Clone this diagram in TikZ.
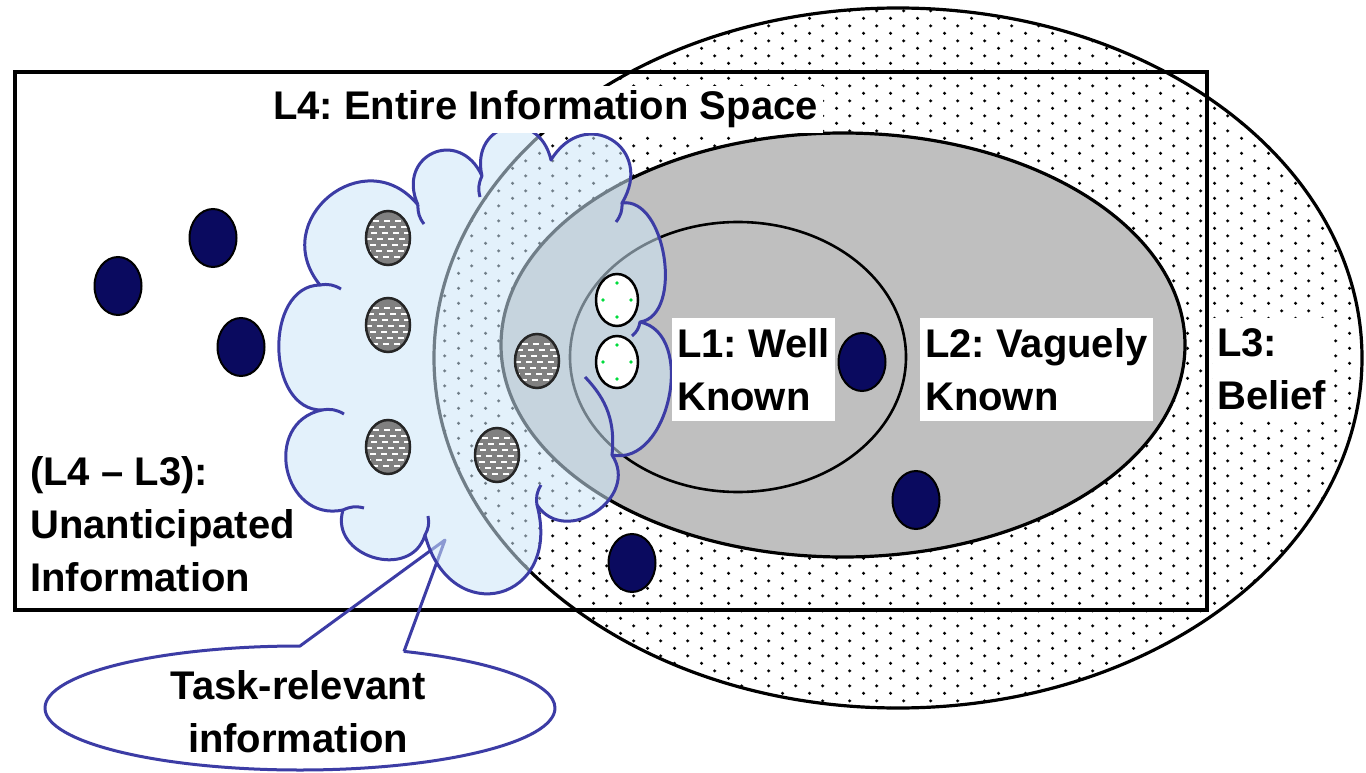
\documentclass[tikz,border=0pt]{standalone}
\usepackage{fontspec}
\newfontfamily\lbl{Liberation Sans}
\usetikzlibrary{shapes.geometric,patterns,calc}
\pgfdeclarepatternformonly{sparsedots}{\pgfqpoint{0pt}{0pt}}{\pgfqpoint{26.6pt}{15.4pt}}{\pgfqpoint{26.6pt}{15.4pt}}{%
  \pgfpathcircle{\pgfqpoint{6.65pt}{3.85pt}}{1.75pt}%
  \pgfpathcircle{\pgfqpoint{19.95pt}{11.55pt}}{1.75pt}%
  \pgfusepath{fill}}
\definecolor{navy}{RGB}{10,10,95}
\definecolor{cloudblue}{RGB}{60,60,165}
\definecolor{cloudfill}{RGB}{205,230,248}
\definecolor{ltwogray}{RGB}{191,191,191}
\definecolor{dotgray}{RGB}{128,128,128}
\definecolor{handle}{RGB}{0,220,60}
\begin{document}
\begin{tikzpicture}[x=1pt,y=-1pt,
  lbltext/.style={font=\lbl\bfseries\frenchspacing\fontsize{40}{53}\selectfont, text=black, align=left, inner sep=0},
  boxtext/.style={lbltext, fill=white, inner xsep=5, inner ysep=10, anchor=north west},
  navydot/.style={ellipse, draw=black, line width=2, fill=navy, minimum width=47, minimum height=58, inner sep=0},
  graydot/.style={ellipse, draw=black!85, line width=2.5, fill=dotgray, minimum width=44, minimum height=54, inner sep=0,
    path picture={
      \foreach \dy/\ph in {-17/0,-11/5,-5/2,1/7,7/3,13/8,19/1}{
        \draw[white, line width=2, dash pattern=on 6 off 5, dash phase=\ph]
          ($(path picture bounding box.center)+(-26,\dy)$) -- ($(path picture bounding box.center)+(26,\dy)$);
      }}},
  whitedot/.style={ellipse, draw=black, line width=2.5, fill=white, minimum width=42, minimum height=52, inner sep=0,
    path picture={
      \foreach \hx/\hy in {0/-17,0/17,-14/0,14/0}{
        \fill[handle] ($(path picture bounding box.center)+(\hx,\hy)$) circle[radius=1.8];
      }}},
  cloudline/.style={draw=cloudblue, line width=3, line join=round},
  callout/.style={draw=cloudblue, line width=3, line join=round},
  outline/.style={draw=black, line width=3.2}
]
\useasboundingbox (0,0) rectangle (1366,773);
\fill[white] (0,0) rectangle (1366,773);

% L3: belief (dotted ellipse)
\fill[white] (898,358) ellipse [x radius=464, y radius=350];
\fill[pattern=sparsedots, pattern color=black] (898,358) ellipse [x radius=464, y radius=350];
\draw[outline] (898,358) ellipse [x radius=464, y radius=350];

% L4: entire information space
\draw[outline] (15,72) rectangle (1207,610);

% L2 and L1
\draw[outline, fill=ltwogray] (843,345) ellipse [x radius=342, y radius=212];
\draw[line width=2.6, draw=black, fill=ltwogray] (738,357) ellipse [x radius=168, y radius=135];

% navy dots
\node[navydot] (n1) at (118,286) {};
\node[navydot] (n2) at (213,238) {};
\node[navydot] (n3) at (241,347) {};
\node[navydot] (n4) at (862,362) {};
\node[navydot] (n5) at (916,500) {};
\node[navydot] (n6) at (632,563) {};

% callout pointer and ellipse
\coordinate (tip) at (445,540);
\coordinate (cbl) at (300,646);
\coordinate (cbr) at (404,651.4);
\draw[callout] (cbr) -- (tip) -- (cbl) arc[start angle=270, end angle=-66, x radius=255, y radius=62];

% cloud
\path[cloudline, fill=cloudfill, fill opacity=0.55]
  (418,205) to[bend left=90, looseness=2.0] (482,176)
  to[bend left=90, looseness=2.0] (551,160)
  to[bend left=90, looseness=2.0] (622,203)
  to[bend left=90, looseness=0.95] (640,322)
  to[bend left=90, looseness=1.1] (612,455)
  to[bend left=90, looseness=1.45] (537,505)
  to[bend left=90, looseness=2.2] (425,535)
  to[bend left=90, looseness=1.45] (343,510)
  to[bend left=90, looseness=1.55] (322,410)
  to[bend left=90, looseness=1.15] (320,285)
  to[bend left=90, looseness=1.7] (418,205);
% cloud inner stubs
\draw[cloudline] (418,205) to[bend right=20] (424,224);
\draw[cloudline] (482,176) to[bend right=20] (480,197);
\draw[cloudline] (622,203) to[bend left=20] (616,222);
\draw[cloudline] (640,322) to[bend left=20] (632,336);
\draw[cloudline] (612,455) to[bend right=25] (585,377);
\draw[cloudline] (537,505) to[bend left=20] (541,485);
\draw[cloudline] (425,535) to[bend right=20] (428,516);
\draw[cloudline] (343,510) to[bend left=20] (364,508);
\draw[cloudline] (322,410) to[bend left=20] (344,414);
\draw[cloudline] (320,285) to[bend left=20] (341,289);

% gray textured dots
\node[graydot] (g1) at (388,238) {};
\node[graydot] (g2) at (388,325) {};
\node[graydot] (g3) at (388,447) {};
\node[graydot] (g4) at (537,361) {};
\node[graydot] (g5) at (497,455) {};

% white dots
\node[whitedot] (w1) at (617,300) {};
\node[whitedot] (w2) at (617,362) {};

% labels
\node[lbltext, fill=white, inner xsep=5, inner ysep=5, anchor=base west] (l4) at (268,120) {L4: Entire Information Space};
\node[boxtext] (l1) at (672,318) {L1: Well\\Known};
\node[boxtext] (l2) at (920,318) {L2: Vaguely\\Known};
\node[boxtext, inner xsep=4] (l3) at (1213,318) {L3:\\Belief};
\node[lbltext, anchor=north west] (unant) at (30,456) {(L4 – L3):\\Unanticipated\\Information};
\node[lbltext, align=center] (task) at (298,712) {Task-relevant\\information};
\end{tikzpicture}
\end{document}
